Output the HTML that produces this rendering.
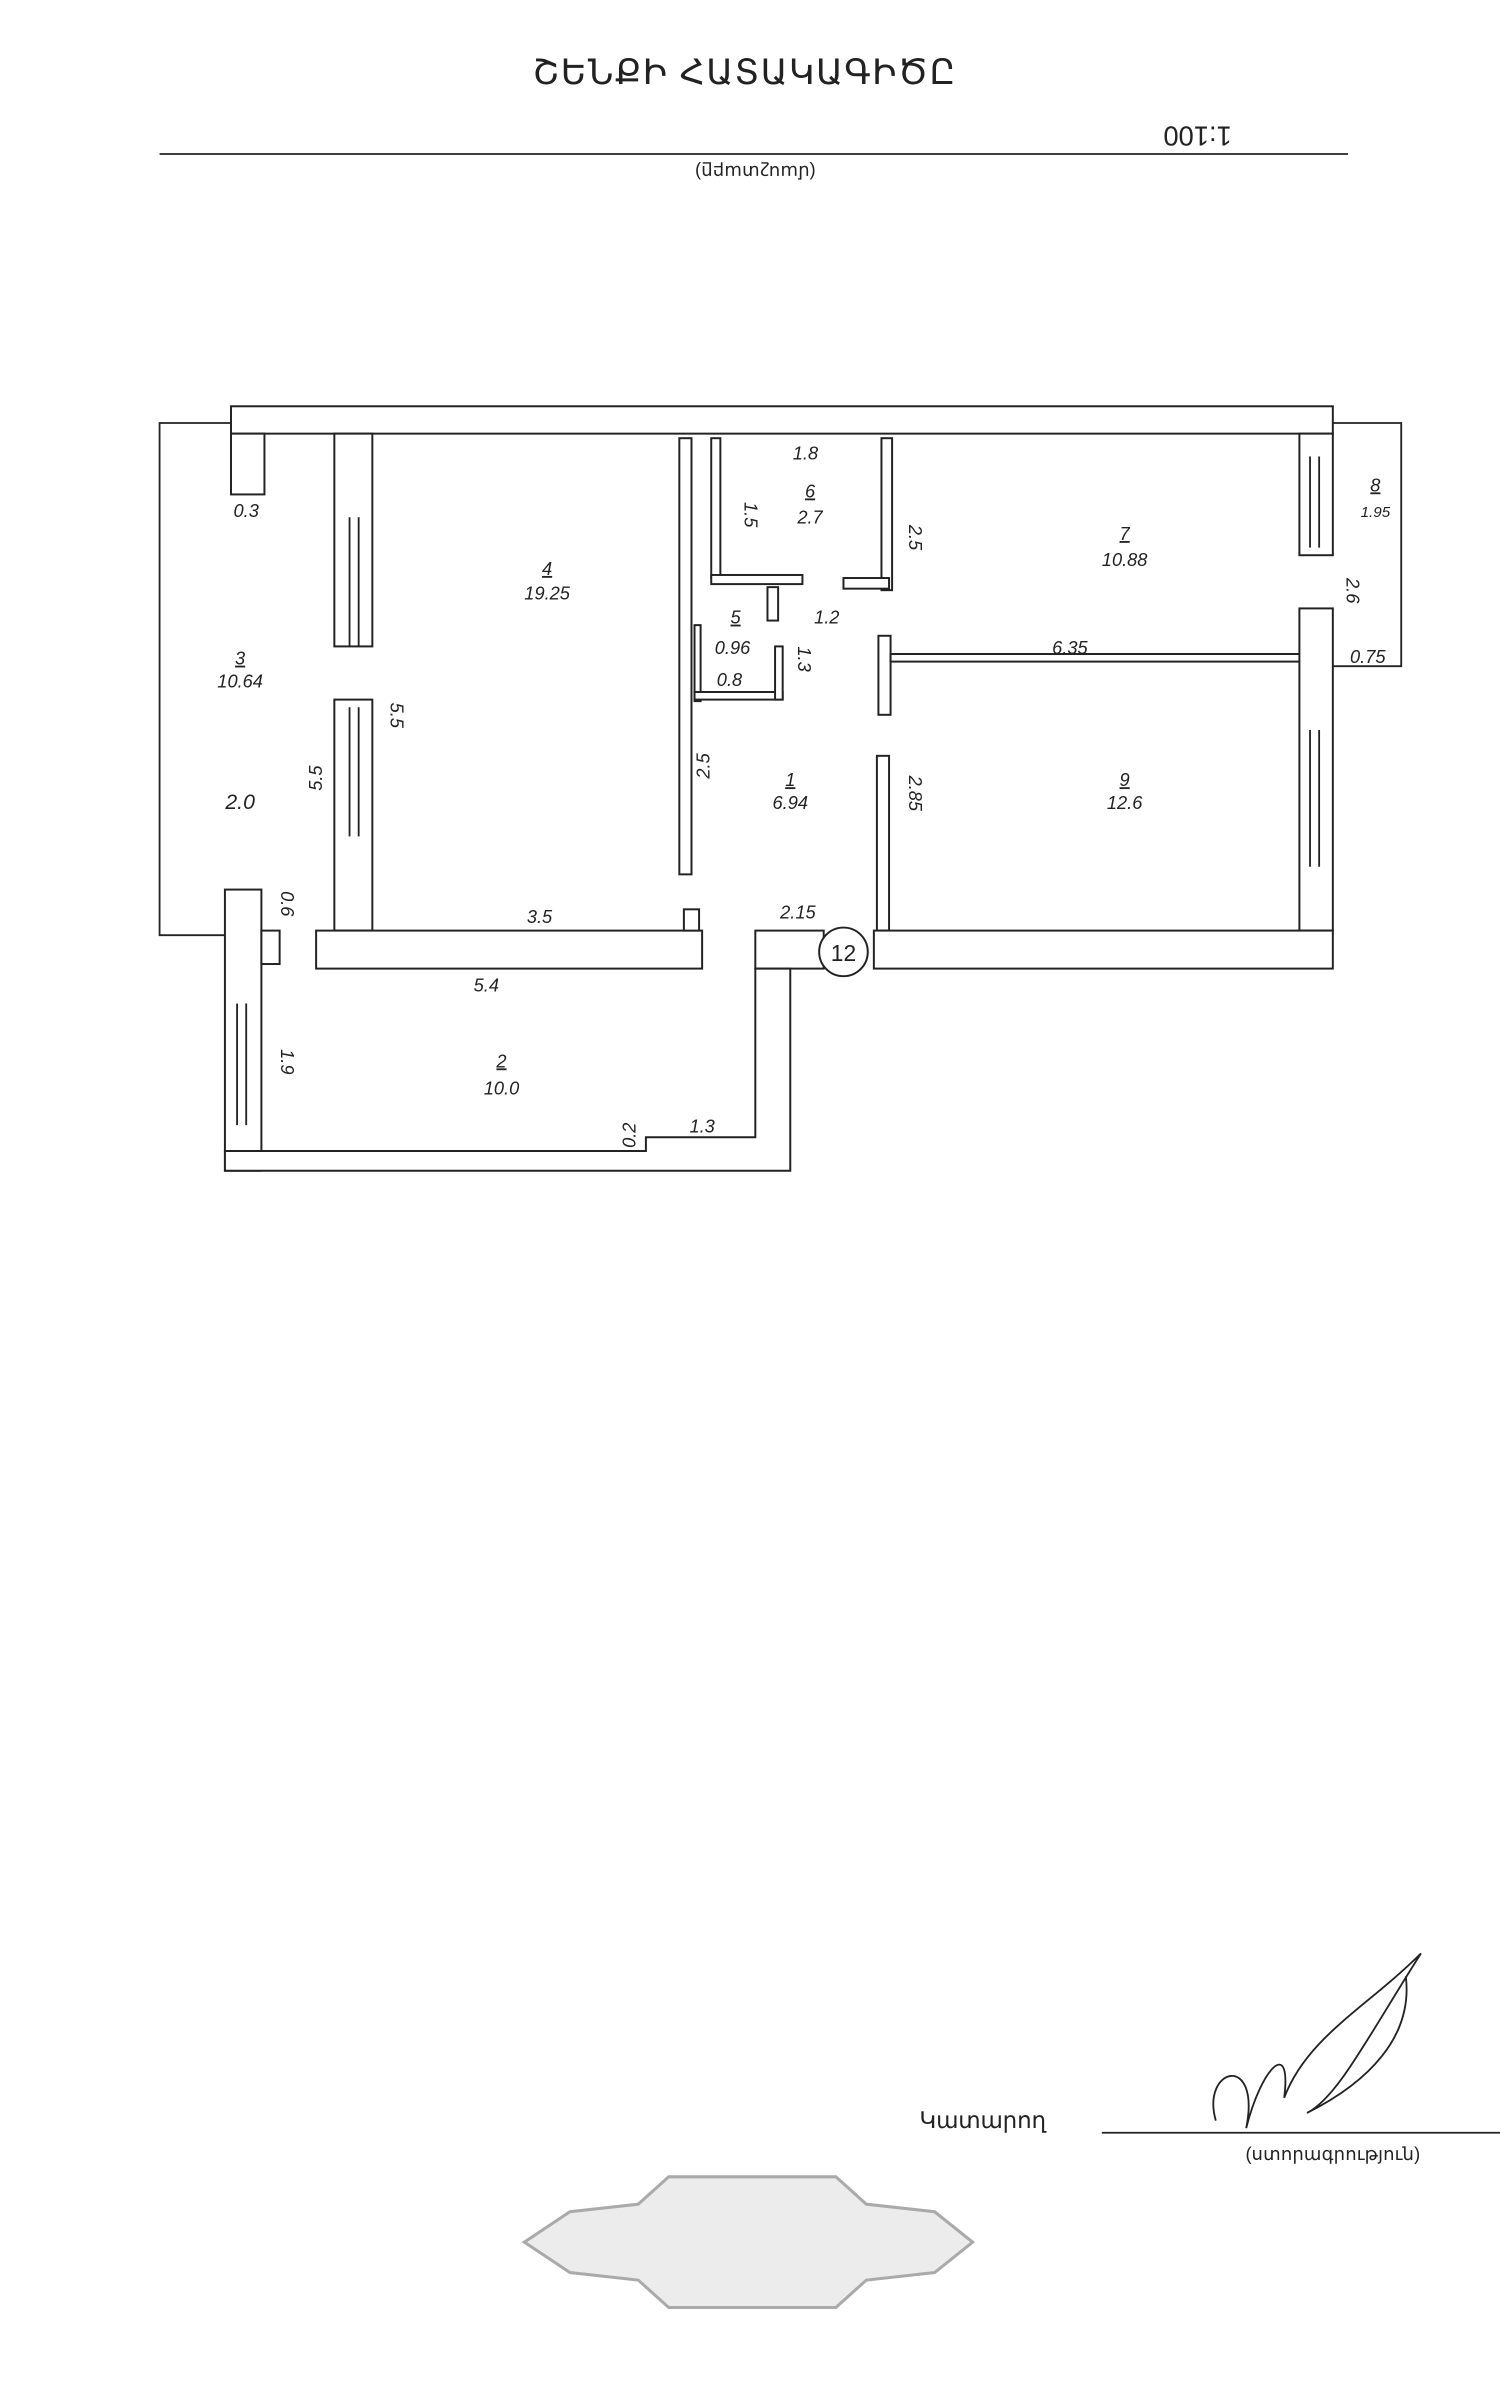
<!DOCTYPE html>
<html><head><meta charset="utf-8"><style>
html,body{margin:0;padding:0;background:#fff;}
svg{display:block}
text{font-family:"Liberation Sans",sans-serif;fill:#222}
.w{fill:#fff;stroke:#222;stroke-width:1.3}
.l{stroke:#222;stroke-width:1.2;fill:none}
.n{font-size:12px;font-style:italic}
</style></head><body>
<svg width="1500" height="2384" viewBox="0 0 987 1568" xmlns="http://www.w3.org/2000/svg">
<rect width="987" height="1568" fill="#fff"/>
<text x="490" y="55" font-size="23" text-anchor="middle" letter-spacing="1">ՇԵՆՔԻ ՀԱՏԱԿԱԳԻԾԸ</text>
<line x1="105" y1="101" x2="887" y2="101" class="l"/>
<text x="788" y="95" font-size="18" text-anchor="middle" transform="rotate(180 788 89)">1:100</text>
<text x="497" y="117" font-size="12" text-anchor="middle" transform="rotate(180 497 113)">(մասշտաբը)</text>

<!-- balcony 3 outline -->
<polyline class="l" points="152,278 105,278 105,615 148,615"/>
<!-- balcony 8 outline -->
<polyline class="l" points="877,278 922,278 922,438 877,438"/>
<!-- top wall -->
<rect class="w" x="152" y="267" width="725" height="18"/>
<rect class="w" x="152" y="285" width="22" height="40"/>
<!-- left wall room4 -->
<rect class="w" x="220" y="285" width="25" height="140"/>
<rect class="w" x="220" y="460" width="25" height="152"/>
<g class="l"><line x1="230" y1="340" x2="230" y2="425"/><line x1="236" y1="340" x2="236" y2="425"/><line x1="230" y1="465" x2="230" y2="550"/><line x1="236" y1="465" x2="236" y2="550"/></g>
<!-- bottom wall -->
<rect class="w" x="208" y="612" width="254" height="25"/>
<rect class="w" x="450" y="598" width="10" height="14"/>
<!-- partition room4 -->
<rect class="w" x="447" y="288" width="8" height="287"/>
<!-- room 6 walls -->
<rect class="w" x="468" y="288" width="6" height="92"/>
<rect class="w" x="468" y="378" width="60" height="6"/>
<rect class="w" x="580" y="288" width="7" height="100"/>
<rect class="w" x="555" y="380" width="30" height="7"/>
<rect class="w" x="505" y="386" width="7" height="22"/>
<!-- room 5 -->
<rect class="w" x="457" y="411" width="4" height="50"/>
<rect class="w" x="457" y="455" width="58" height="5"/>
<rect class="w" x="510" y="425" width="5" height="35"/>
<!-- corridor partitions -->
<rect class="w" x="578" y="418" width="8" height="52"/>
<rect class="w" x="586" y="430" width="270" height="5"/>
<rect class="w" x="577" y="497" width="8" height="115"/>
<!-- right outer wall -->
<rect class="w" x="855" y="285" width="22" height="80"/>
<rect class="w" x="855" y="400" width="22" height="212"/>
<g class="l"><line x1="862" y1="300" x2="862" y2="360"/><line x1="868" y1="300" x2="868" y2="360"/><line x1="862" y1="480" x2="862" y2="570"/><line x1="868" y1="480" x2="868" y2="570"/></g>
<rect class="w" x="575" y="612" width="302" height="25"/>
<rect class="w" x="497" y="612" width="45" height="25"/>
<!-- room 2 -->
<rect class="w" x="148" y="585" width="24" height="185"/>
<rect class="w" x="172" y="612" width="12" height="22"/>
<g class="l"><line x1="156" y1="660" x2="156" y2="740"/><line x1="162" y1="660" x2="162" y2="740"/></g>
<polygon class="w" points="172,757 425,757 425,748 497,748 497,637 520,637 520,770 148,770 148,757"/>
<circle cx="555" cy="626" r="16" class="w"/>
<text x="555" y="632" font-size="15" text-anchor="middle">12</text>

<g class="n" text-anchor="middle">
<text x="162" y="340">0.3</text>
<text x="158" y="437" text-decoration="underline">3</text><text x="158" y="452">10.64</text>
<text x="158" y="532" font-size="14">2.0</text>
<text x="360" y="378" text-decoration="underline">4</text><text x="360" y="394">19.25</text>
<text x="530" y="302">1.8</text>
<text x="533" y="327" text-decoration="underline">6</text><text x="533" y="344">2.7</text>
<text x="740" y="355" text-decoration="underline">7</text><text x="740" y="372">10.88</text>
<text x="905" y="323" text-decoration="underline">8</text><text x="905" y="340" font-size="10">1.95</text>
<text x="484" y="410" text-decoration="underline">5</text><text x="482" y="430">0.96</text><text x="480" y="451">0.8</text>
<text x="544" y="410">1.2</text>
<text x="704" y="430">6.35</text>
<text x="900" y="436">0.75</text>
<text x="520" y="517" text-decoration="underline">1</text><text x="520" y="532">6.94</text>
<text x="740" y="517" text-decoration="underline">9</text><text x="740" y="532">12.6</text>
<text x="355" y="607">3.5</text>
<text x="525" y="604">2.15</text>
<text x="320" y="652">5.4</text>
<text x="330" y="702" text-decoration="underline">2</text><text x="330" y="720">10.0</text>
<text x="462" y="745">1.3</text>
</g>
<g class="n">
<text transform="translate(490,330) rotate(90)">1.5</text>
<text transform="translate(598,345) rotate(90)">2.5</text>
<text transform="translate(525,425) rotate(90)">1.3</text>
<text transform="translate(467,512) rotate(-90)">2.5</text>
<text transform="translate(598,510) rotate(90)">2.85</text>
<text transform="translate(212,520) rotate(-90)">5.5</text>
<text transform="translate(257,462) rotate(90)">5.5</text>
<text transform="translate(185,586) rotate(90)">0.6</text>
<text transform="translate(185,690) rotate(90)">1.9</text>
<text transform="translate(418,755) rotate(-90)">0.2</text>
<text transform="translate(886,380) rotate(90)">2.6</text>
</g>

<!-- signature -->
<text x="605" y="1400" font-size="15">Կատարող</text>
<line x1="725" y1="1403" x2="987" y2="1403" class="l"/>
<text x="877" y="1421" font-size="12" text-anchor="middle">(ստորագրություն)</text>
<path class="l" d="M800 1395 C790 1360 830 1350 820 1400 C830 1360 850 1340 845 1380 C860 1340 900 1320 935 1285 C900 1340 880 1380 860 1390 C900 1370 930 1340 925 1300" stroke-width="1.6"/>
<!-- stamp ornament -->
<path d="M345 1475 L375 1455 L420 1450 L440 1432 L550 1432 L570 1450 L615 1455 L640 1475 L615 1495 L570 1500 L550 1518 L440 1518 L420 1500 L375 1495 Z" fill="#ececec" stroke="#aaa" stroke-width="2"/>
</svg>
</body></html>
